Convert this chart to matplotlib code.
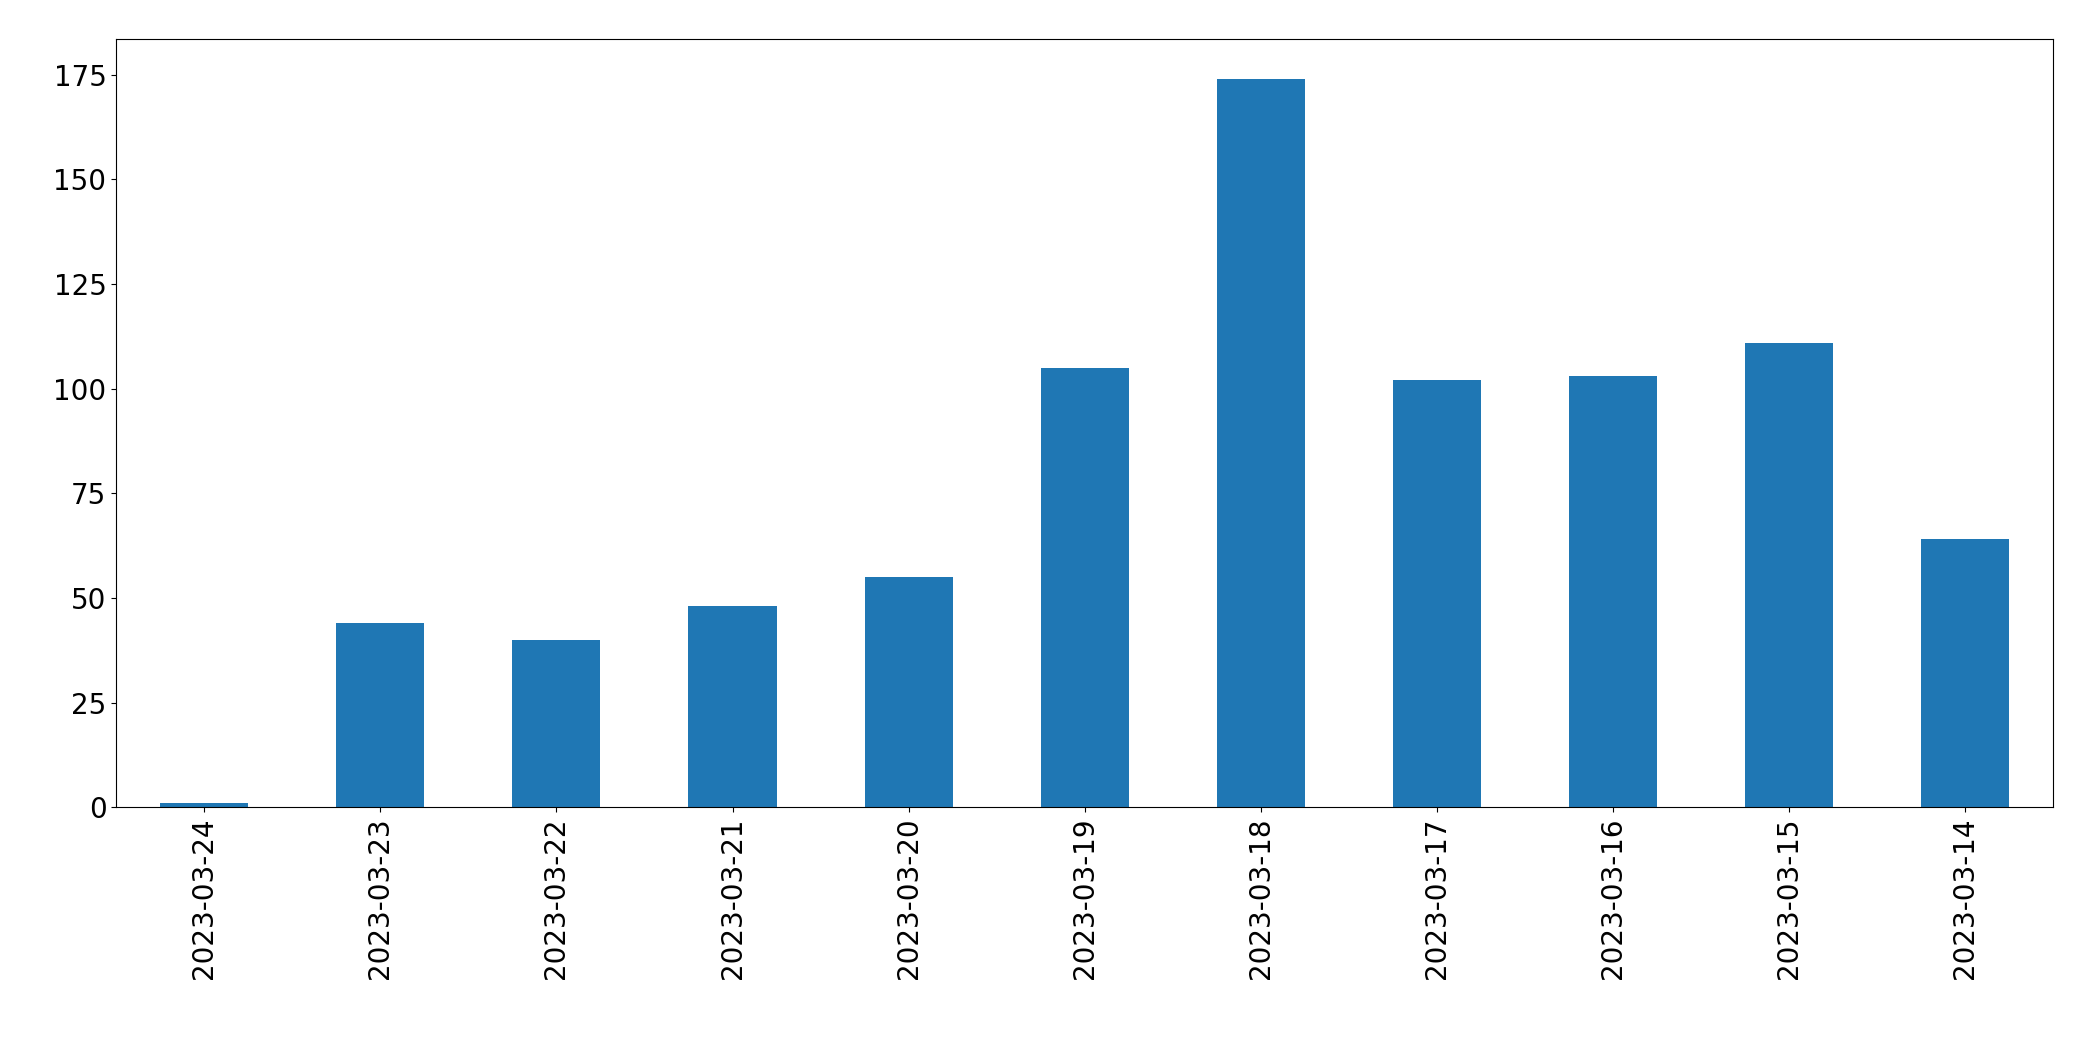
import matplotlib
matplotlib.use("Agg")
import matplotlib.pyplot as plt

dates = ["2023-03-24","2023-03-23","2023-03-22","2023-03-21","2023-03-20","2023-03-19",
         "2023-03-18","2023-03-17","2023-03-16","2023-03-15","2023-03-14"]
counts = [1, 44, 40, 48, 55, 105, 174, 102, 103, 111, 64]

fig = plt.figure(figsize=(20.93, 10.61), dpi=100)
ax = fig.add_axes([0.0555, 0.239, 0.9255, 0.7246])
x = range(len(dates))
ax.bar(x, counts, width=0.5, color="#1f77b4")
ax.set_xticks(list(x))
ax.set_xticklabels(dates, rotation=90)
ax.set_xlim(-0.5, len(dates) - 0.5)
ax.set_ylim(0, 183.6)
ax.set_yticks([0, 25, 50, 75, 100, 125, 150, 175])
ax.tick_params(labelsize=20)
fig.savefig("out.png", dpi=100)
